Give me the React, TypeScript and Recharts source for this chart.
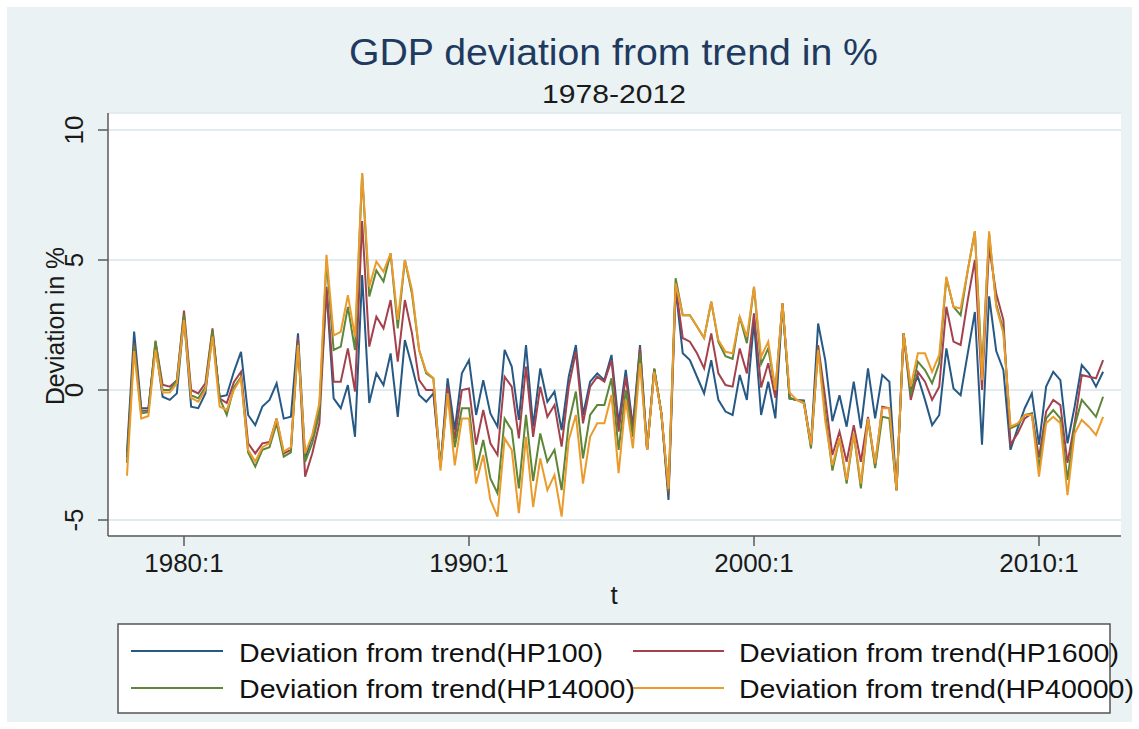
import React from 'react';
import { LineChart, Line, XAxis, YAxis, CartesianGrid, Legend } from 'recharts';

const FONT = '"Liberation Sans", Arial, Helvetica, sans-serif';

// quarterly categories 1978:1 .. 2012:2
const START_YEAR = 1978;
const N_QUARTERS = 138;
const quarters: string[] = [];
for (let i = 0; i < N_QUARTERS; i++) {
  quarters.push(`${START_YEAR + Math.floor(i / 4)}:${(i % 4) + 1}`);
}

const xTickLabels = ['1980:1', '1990:1', '2000:1', '2010:1'];
const yTicks = [-5, 0, 5, 10];

const hp100 = [
  -2.4, 2.25, -0.7, -0.7, 1.7, -0.26, -0.38, -0.13, 2.8, -0.64,
  -0.7, -0.13, 2.2, -0.26, -0.2, 0.7, 1.47, -0.96, -1.35, -0.64,
  -0.38, 0.26, -1.1, -1.03, 2.18, -2.6, -1.8, -0.64, 3.85, -0.32,
  -0.7, 0.19, -1.8, 4.42, -0.5, 0.64, 0.19, 1.41, -1.03, 1.92,
  0.9, -0.19, -0.45, -0.13, -2.95, 0.45, -1.54, 0.64, 1.15, -0.96,
  0.38, -0.9, -1.41, 1.54, 0.9, -1.15, 1.73, -1.41, 0.83, -0.45,
  -0.06, -1.54, 0.51, 1.73, -0.96, 0.32, 0.64, 0.38, 1.35, -1.28,
  0.77, -1.41, 1.73, -2.3, 0.8, -0.9, -4.23, 3.9, 1.41, 1.15,
  0.51, -0.13, 1.15, -0.38, -0.83, -0.96, 0.58, -0.38, 2.63, -0.96,
  0.32, -1.09, 3.3, -0.32, -0.38, -0.4, -2.1, 2.56, 1.15, -1.2,
  -0.2, -1.41, 0.32, -1.47, 0.83, -1.09, 0.58, 0.32, -3.85, 2.18,
  0, 0.51, -0.38, -1.35, -0.96, 1.6, 0.06, -0.2, 1.41, 3.0,
  -2.1, 3.6, 1.5, 0.77, -2.3, -1.47, -0.7, -0.13, -2.1, 0.13,
  0.7, 0.38, -2.05, -0.64, 0.96, 0.64, 0.13, 0.7,
];

const hp1600 = [
  -2.6, 1.8, -0.8, -0.8, 1.85, 0.2, 0.13, 0.38, 3.05, 0,
  -0.13, 0.26, 2.37, -0.32, -0.5, 0.3, 0.7, -2.05, -2.44, -2.05,
  -2.0, -1.1, -2.44, -2.3, 2.0, -3.33, -2.44, -1.28, 3.97, 0.32,
  0.32, 1.6, -0.06, 6.5, 1.67, 2.82, 2.37, 3.46, 1.09, 3.46,
  2.18, 0.38, 0, 0, -2.95, 0.13, -1.9, 0, 0.06, -2.1,
  -0.77, -2.05, -2.5, 0.51, 0.13, -1.86, 0.9, -1.8, 0.13, -1.03,
  -0.58, -2.18, 0.13, 1.47, -1.28, 0.13, 0.51, 0.32, 1.15, -1.6,
  0.51, -1.55, 1.6, -2.3, 0.8, -0.9, -4.0, 4.0, 2.0, 1.86,
  1.41, 0.83, 2.18, 0.64, 0.19, 0.13, 1.6, 0.64, 2.95, 0.1,
  1.03, -0.3, 3.33, -0.32, -0.38, -0.5, -2.15, 1.73, -0.3, -2.5,
  -1.6, -2.76, -1.35, -2.76, -1.03, -2.9, -0.64, -0.7, -3.85, 2.18,
  -0.38, 0.7, 0.32, -0.38, 0.13, 3.2, 1.86, 1.73, 3.46, 5.0,
  0, 5.5, 3.7, 2.7, -2.1, -1.67, -1.09, -0.9, -2.6, -0.83,
  -0.38, -0.58, -2.8, -1.28, 0.58, 0.51, 0.45, 1.15,
];

const hp14000 = [
  -2.8, 1.7, -0.9, -0.85, 1.9, 0, 0, 0.38, 2.9, -0.2,
  -0.32, 0.1, 2.3, -0.32, -0.96, 0.1, 0.5, -2.4, -2.95, -2.3,
  -2.2, -1.28, -2.56, -2.4, 1.8, -2.76, -2.05, -0.9, 5.0, 1.54,
  1.67, 3.2, 1.54, 8.33, 3.6, 4.6, 4.17, 5.26, 2.37, 5.0,
  3.7, 1.54, 0.64, 0.45, -2.95, -0.13, -2.2, -0.7, -0.7, -3.1,
  -1.92, -3.4, -3.97, -1.1, -1.54, -3.78, -0.96, -3.5, -1.67, -2.76,
  -2.3, -3.85, -1.28, -0.06, -2.63, -0.96, -0.58, -0.58, 0.45, -2.3,
  0, -1.8, 1.41, -2.3, 0.83, -0.9, -3.9, 4.3, 2.88, 2.88,
  2.44, 2.0, 3.4, 1.85, 1.3, 1.2, 2.82, 1.8, 3.97, 1.0,
  1.6, 0, 3.33, -0.32, -0.38, -0.45, -2.25, 1.6, -0.9, -3.1,
  -1.86, -3.6, -1.67, -3.78, -1.1, -3.0, -1.03, -1.09, -3.85, 2.18,
  -0.2, 1.09, 0.77, 0.26, 1.03, 4.3, 3.2, 2.88, 4.6, 6.1,
  0.77, 6.0, 3.3, 2.3, -1.47, -1.35, -0.96, -0.9, -3.0, -1.09,
  -0.77, -1.09, -3.46, -1.4, -0.38, -0.7, -1.03, -0.26,
];

const hp40000 = [
  -3.3, 1.5, -1.1, -1.0, 1.55, -0.1, -0.1, 0.26, 2.7, -0.3,
  -0.45, 0, 2.05, -0.64, -0.77, 0, 0.45, -2.3, -2.75, -2.2,
  -2.05, -1.1, -2.37, -2.2, 1.73, -2.44, -1.73, -0.5, 5.2, 2.1,
  2.24, 3.65, 2.05, 8.33, 3.97, 4.94, 4.55, 5.26, 2.7, 5.0,
  3.85, 1.54, 0.7, 0.45, -3.1, -0.13, -2.9, -1.1, -1.1, -3.6,
  -2.5, -4.23, -4.87, -1.86, -2.3, -4.74, -1.8, -4.5, -2.63, -3.85,
  -3.27, -4.87, -1.92, -0.96, -3.6, -1.8, -1.28, -1.28, -0.19, -3.2,
  -0.38, -2.24, 1.03, -2.3, 0.7, -0.9, -3.8, 4.1, 2.88, 2.88,
  2.44, 2.0, 3.4, 1.92, 1.47, 1.41, 2.82, 2.05, 3.97, 1.28,
  1.86, 0, 3.33, -0.1, -0.38, -0.5, -2.1, 1.54, -1.2, -2.9,
  -1.86, -3.46, -1.67, -3.6, -1.1, -2.82, -0.7, -0.7, -3.85, 2.18,
  0.13, 1.41, 1.41, 0.7, 1.35, 4.36, 3.2, 3.14, 4.6, 6.1,
  0.38, 6.1, 3.2, 2.18, -1.41, -1.28, -0.96, -0.96, -3.33, -1.28,
  -1.03, -1.28, -4.04, -1.67, -1.15, -1.41, -1.73, -1.03,
];

const seriesKeys = ['hp100', 'hp1600', 'hp14000', 'hp40000'];
const seriesNames = [
  'Deviation from trend(HP100)',
  'Deviation from trend(HP1600)',
  'Deviation from trend(HP14000)',
  'Deviation from trend(HP40000)',
];
const seriesColors = ['#275985', '#a3424c', '#5d8638', '#eb9b2c'];

const data = quarters.map((q, i) => ({
  t: i,
  q,
  hp100: hp100[i],
  hp1600: hp1600[i],
  hp14000: hp14000[i],
  hp40000: hp40000[i],
}));

const xTicks = xTickLabels.map((l) => quarters.indexOf(l));

const XTick = (props: any) => {
  const { x, payload } = props;
  return (
    <text x={x} y={572} textAnchor="middle" fontSize={26} fill="#1a1a1a" fontFamily={FONT}>
      {quarters[payload.value]}
    </text>
  );
};

const YTick = (props: any) => {
  const { y, payload } = props;
  const bx = 83;
  return (
    <text
      x={bx}
      y={y}
      transform={`rotate(-90 ${bx} ${y})`}
      textAnchor="middle"
      fontSize={26}
      fill="#1a1a1a"
      fontFamily={FONT}
    >
      {payload.value}
    </text>
  );
};

// legend layout (styles only)
const legendCols = [
  { lineX1: 131, lineX2: 223, textX: 239 },
  { lineX1: 633, lineX2: 724, textX: 739 },
];
const legendRows = [
  { lineY: 651, textY: 662 },
  { lineY: 688, textY: 698 },
];
const legendTextLen = [364, 380, 396, 395];

const renderLegend = () => (
  <svg width={1139} height={729} style={{ position: 'absolute', left: 0, top: 0, overflow: 'visible' }}>
    <rect x={118} y={624} width={992} height={89} fill="#ffffff" stroke="#555" strokeWidth={1.5} />
    {seriesNames.map((name, idx) => {
      const col = legendCols[idx % 2];
      const row = legendRows[Math.floor(idx / 2)];
      return (
        <g key={name}>
          <line x1={col.lineX1} x2={col.lineX2} y1={row.lineY} y2={row.lineY} stroke={seriesColors[idx]} strokeWidth={2} />
          <text
            x={col.textX}
            y={row.textY}
            fontSize={26}
            fill="#111"
            fontFamily={FONT}
            textLength={legendTextLen[idx]}
            lengthAdjust="spacingAndGlyphs"
          >
            {name}
          </text>
        </g>
      );
    })}
  </svg>
);

export default function App() {
  return (
    <div style={{ position: 'absolute', left: 0, top: 0, width: 1139, height: 729, background: '#ffffff', overflow: 'hidden' }}>
      <div style={{ position: 'absolute', left: 7, top: 7, width: 1125, height: 715, background: '#eaf2f3' }} />
      <div style={{ position: 'absolute', left: 0, top: 0 }}>
        <LineChart width={1139} height={729} data={data} margin={{ top: 113, right: 18, bottom: 163, left: 48 }}>
          <CartesianGrid vertical={false} stroke="#e2ebee" strokeWidth={2} fill="#ffffff" />
          <XAxis
            dataKey="t"
            type="number"
            domain={[-2.667, 139.51]}
            allowDataOverflow
            ticks={xTicks}
            interval={0}
            height={30}
            tickSize={10}
            axisLine={{ stroke: '#5a5a5a', strokeWidth: 1.5 }}
            tickLine={{ stroke: '#5a5a5a', strokeWidth: 1.5 }}
            tick={<XTick />}
          />
          <YAxis
            type="number"
            domain={[-5.615, 10.654]}
            allowDataOverflow
            ticks={yTicks}
            interval={0}
            width={60}
            tickSize={10}
            axisLine={{ stroke: '#5a5a5a', strokeWidth: 1.5 }}
            tickLine={{ stroke: '#5a5a5a', strokeWidth: 1.5 }}
            tick={<YTick />}
          />
          {seriesKeys.map((k, idx) => (
            <Line
              key={k}
              dataKey={k}
              name={seriesNames[idx]}
              type="linear"
              stroke={seriesColors[idx]}
              strokeWidth={2}
              dot={false}
              activeDot={false}
              isAnimationActive={false}
            />
          ))}
          <Legend
            verticalAlign="middle"
            align="center"
            layout="horizontal"
            wrapperStyle={{ position: 'absolute', left: 0, top: 0, width: 1139, height: 729, pointerEvents: 'none' }}
            content={renderLegend}
          />
        </LineChart>
      </div>
      <svg width={1139} height={729} style={{ position: 'absolute', left: 0, top: 0, pointerEvents: 'none' }}>
        <text x={349} y={65} fontSize={36} fill="#1f3a5f" fontFamily={FONT} textLength={529} lengthAdjust="spacingAndGlyphs">
          GDP deviation from trend in %
        </text>
        <text x={542} y={103} fontSize={25} fill="#1a1a1a" fontFamily={FONT} textLength={144} lengthAdjust="spacingAndGlyphs">
          1978-2012
        </text>
        <text x={614} y={604} fontSize={26} fill="#1a1a1a" fontFamily={FONT} textAnchor="middle">
          t
        </text>
        <text
          x={64}
          y={326}
          transform="rotate(-90 64 326)"
          fontSize={25}
          fill="#1a1a1a"
          fontFamily={FONT}
          textAnchor="middle"
          textLength={158}
          lengthAdjust="spacingAndGlyphs"
        >
          Deviation in %
        </text>
      </svg>
    </div>
  );
}
